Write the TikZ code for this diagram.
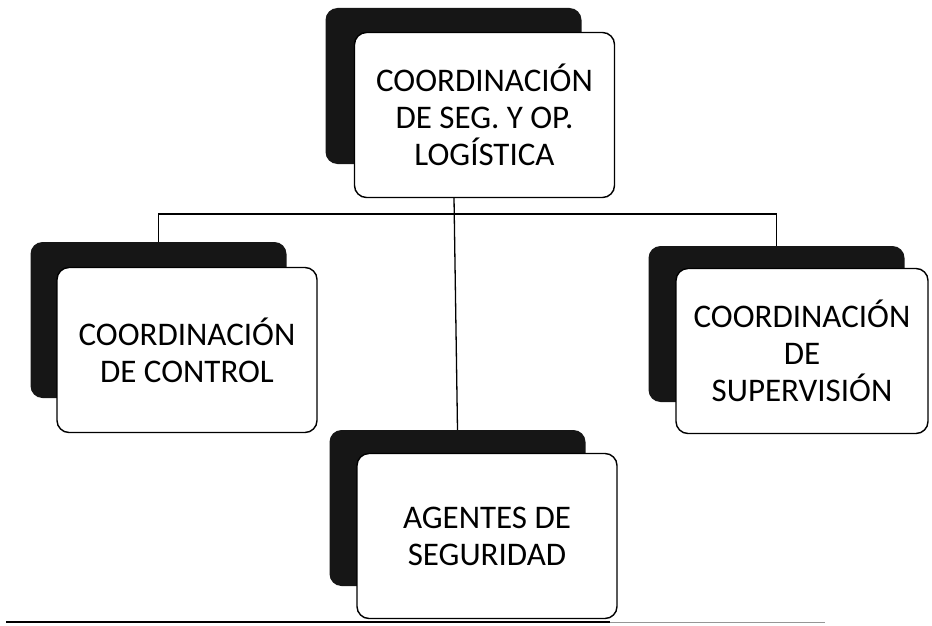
\documentclass[tikz,border=0pt]{standalone}
\usepackage{fontspec}
\setmainfont{Carlito}
\definecolor{orgcolor0001}{RGB}{0,0,0}
\definecolor{orgcolor0002}{RGB}{22,22,22}
\definecolor{orgcolor0003}{RGB}{150,150,150}

\begin{document}
\begin{tikzpicture}[yscale=-1
                ,boxstyle/.style={draw=orgcolor0001,fill=white,line width=1.4pt,rounded corners=12pt,minimum width=260pt,minimum height=165pt,align=center,inner sep=0pt,font=\fontsize{33}{37}\selectfont}
                ,shadestyle/.style={fill=orgcolor0002,rounded corners=12pt,minimum width=256pt,minimum height=156pt,inner sep=0pt}
                ,linkstyle/.style={color=orgcolor0001,line width=1.3pt}
            ]
            \useasboundingbox (0pt,0pt) rectangle (932pt,626pt);
            \node[shadestyle] (topshade) at (453.5pt,86pt) {};
            \node[shadestyle] (leftshade) at (158.5pt,320pt) {};
            \node[shadestyle] (rightshade) at (776.5pt,324pt) {};
            \node[shadestyle] (agentshade) at (457.5pt,508pt) {};
            \coordinate (hub) at (454pt,214pt);
            \draw[linkstyle] (topshade.south) -- (agentshade.north);
            \draw[linkstyle] (leftshade.north) |- (hub) -| (rightshade.north);
            \node[boxstyle] (top) at (484.5pt,115pt) {COORDINACIÓN\\DE SEG. Y OP.\\LOGÍSTICA};
            \node[boxstyle] (left) at (187pt,350pt) {COORDINACIÓN\\DE CONTROL};
            \node[boxstyle,minimum width=252pt] (right) at (802pt,351pt) {COORDINACIÓN\\DE\\SUPERVISIÓN};
            \node[boxstyle] (agent) at (487pt,536pt) {AGENTES DE\\SEGURIDAD};
            \draw[color=orgcolor0001,line width=1.4pt] (6pt,622pt) -- (610pt,622pt);
            \draw[color=orgcolor0003,line width=1pt] (610pt,622pt) -- (825pt,622pt);
        \end{tikzpicture}
\end{document}
